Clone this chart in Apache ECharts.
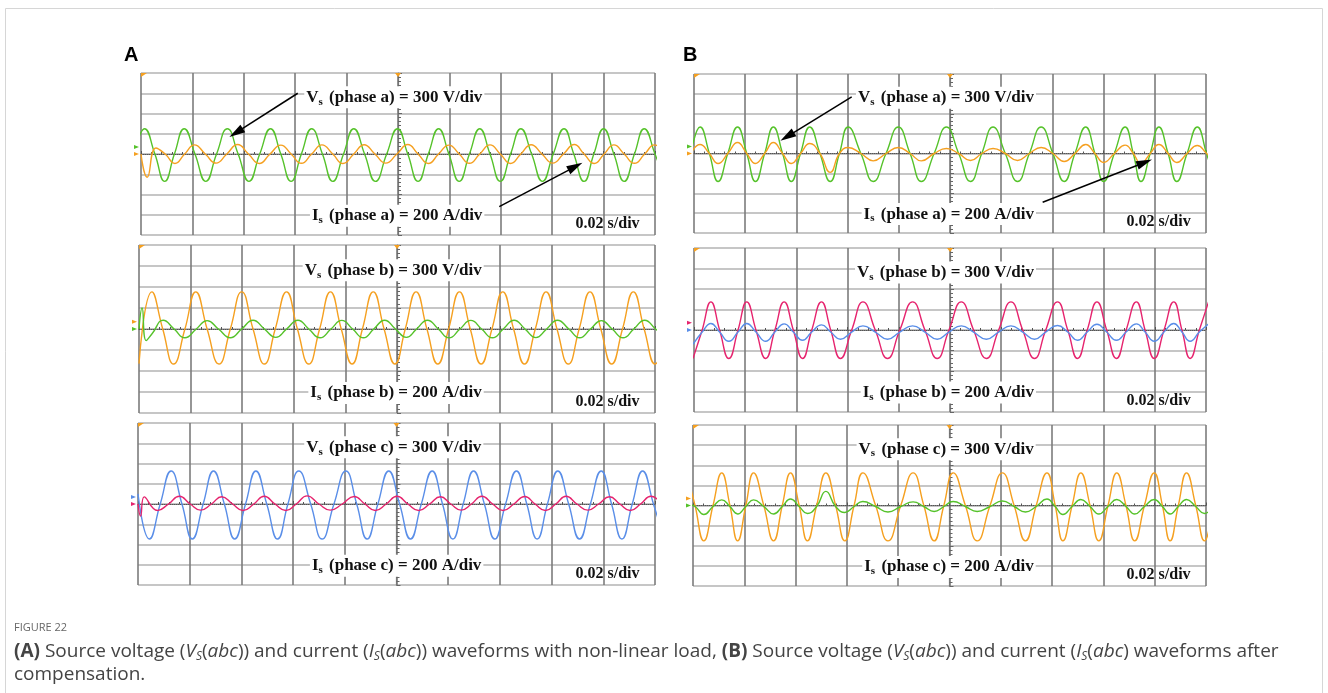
<!DOCTYPE html>
<html>
<head>
<meta charset="utf-8">
<title>Figure 22</title>
<script src="https://cdn.jsdelivr.net/npm/echarts@6/dist/echarts.min.js"></script>
<style>
  html, body { margin: 0; padding: 0; background: #fff; }
  #chart { width: 1328px; height: 693px; }
</style>
</head>
<body>
<div id="chart"></div>
<script>
// sample times are in screen divisions from the left edge (0..10, 0.02 s/div),
// values in vertical divisions from the centre line

// (A) phase a
const tA1v = [-0.13, 0.07, 0.27, 0.46, 0.65, 0.84, 1.05, 1.26, 1.47, 1.68, 1.89, 2.10, 2.31, 2.52, 2.72, 2.92, 3.12, 3.32, 3.53, 3.73, 3.94, 4.14, 4.35, 4.56, 4.78, 4.99, 5.19, 5.39, 5.59, 5.79, 5.99, 6.19, 6.39, 6.59, 6.79, 6.99, 7.19, 7.39, 7.60, 7.81, 8.02, 8.23, 8.42, 8.62, 8.81, 9.00, 9.20, 9.40, 9.60, 9.79, 10.00, 10.20];
const vA1 = [0, 1.25, 0, -1.35, 0, 1.25, 0, -1.35, 0, 1.25, 0, -1.35, 0, 1.25, 0, -1.35, 0, 1.25, 0, -1.35, 0, 1.25, 0, -1.35, 0, 1.25, 0, -1.35, 0, 1.25, 0, -1.35, 0, 1.25, 0, -1.35, 0, 1.25, 0, -1.35, 0, 1.25, 0, -1.35, 0, 1.25, 0, -1.35, 0, 1.25, 0, -1.35];
const tA1i = [0.00, 0.12, 0.29, 0.47, 0.66, 0.85, 1.04, 1.25, 1.46, 1.67, 1.88, 2.09, 2.30, 2.51, 2.72, 2.92, 3.12, 3.32, 3.52, 3.73, 3.93, 4.14, 4.34, 4.55, 4.76, 4.98, 5.19, 5.39, 5.59, 5.79, 5.99, 6.19, 6.39, 6.59, 6.79, 6.99, 7.19, 7.39, 7.59, 7.80, 8.01, 8.22, 8.43, 8.62, 8.82, 9.01, 9.20, 9.40, 9.60, 9.80, 9.99, 10.20];
const iA1 = [0, -1.15, 0.3, 0, -0.47, 0, 0.45, 0, -0.45, 0, 0.47, 0, -0.47, 0, 0.44, 0, -0.46, 0, 0.45, 0, -0.47, 0, 0.46, 0, -0.45, 0, 0.47, 0, -0.47, 0, 0.44, 0, -0.46, 0, 0.45, 0, -0.47, 0, 0.46, 0, -0.45, 0, 0.47, 0, -0.47, 0, 0.45, 0, -0.46, 0, 0.45, 0];

// (A) phase b
const tA2v = [0.00, 0.25, 0.46, 0.67, 0.89, 1.10, 1.32, 1.55, 1.77, 1.99, 2.21, 2.43, 2.64, 2.86, 3.07, 3.29, 3.50, 3.71, 3.92, 4.13, 4.33, 4.54, 4.75, 4.96, 5.16, 5.37, 5.58, 5.79, 6.00, 6.21, 6.42, 6.63, 6.84, 7.05, 7.26, 7.47, 7.68, 7.89, 8.10, 8.32, 8.53, 8.74, 8.95, 9.16, 9.37, 9.58, 9.79, 10.00, 10.21];
const vA2 = [-1.65, 1.77, 0, -1.67, 0, 1.77, 0, -1.67, 0, 1.77, 0, -1.67, 0, 1.77, 0, -1.67, 0, 1.77, 0, -1.67, 0, 1.77, 0, -1.67, 0, 1.77, 0, -1.67, 0, 1.77, 0, -1.67, 0, 1.77, 0, -1.67, 0, 1.77, 0, -1.67, 0, 1.77, 0, -1.67, 0, 1.77, 0, -1.67, 0];
const tA2i = [0.00, 0.06, 0.14, 0.26, 0.47, 0.68, 0.89, 1.11, 1.32, 1.54, 1.77, 1.99, 2.21, 2.43, 2.65, 2.86, 3.08, 3.29, 3.51, 3.72, 3.93, 4.14, 4.35, 4.55, 4.76, 4.97, 5.18, 5.38, 5.59, 5.80, 6.01, 6.22, 6.43, 6.64, 6.85, 7.06, 7.27, 7.48, 7.69, 7.90, 8.11, 8.33, 8.54, 8.75, 8.96, 9.17, 9.38, 9.59, 9.80, 10.01, 10.22];
const iA2 = [0, 1.0, -0.55, -0.2, 0.42, 0, -0.42, 0, 0.4, 0, -0.42, 0, 0.42, 0, -0.4, 0, 0.42, 0, -0.42, 0, 0.41, 0, -0.42, 0, 0.42, 0, -0.4, 0, 0.42, 0, -0.42, 0, 0.41, 0, -0.42, 0, 0.42, 0, -0.41, 0, 0.42, 0, -0.42, 0, 0.4, 0, -0.42, 0, 0.42, 0, -0.42];

// (A) phase c
const tA3v = [0.00, 0.22, 0.43, 0.64, 0.85, 1.05, 1.26, 1.46, 1.67, 1.87, 2.08, 2.28, 2.49, 2.70, 2.90, 3.11, 3.34, 3.56, 3.79, 4.02, 4.23, 4.43, 4.64, 4.85, 5.06, 5.27, 5.48, 5.69, 5.89, 6.09, 6.29, 6.49, 6.70, 6.90, 7.11, 7.32, 7.52, 7.72, 7.92, 8.12, 8.33, 8.54, 8.75, 8.96, 9.16, 9.36, 9.56, 9.76, 9.97, 10.18];
const vA3 = [0.5, -1.73, 0, 1.63, 0, -1.73, 0, 1.63, 0, -1.73, 0, 1.63, 0, -1.73, 0, 1.63, 0, -1.73, 0, 1.63, 0, -1.73, 0, 1.63, 0, -1.73, 0, 1.63, 0, -1.73, 0, 1.63, 0, -1.73, 0, 1.63, 0, -1.73, 0, 1.63, 0, -1.73, 0, 1.63, 0, -1.73, 0, 1.63, 0, -1.73];
const tA3i = [0.00, 0.05, 0.12, 0.38, 0.59, 0.80, 1.01, 1.21, 1.42, 1.62, 1.83, 2.03, 2.24, 2.44, 2.65, 2.86, 3.06, 3.27, 3.50, 3.72, 3.95, 4.18, 4.39, 4.59, 4.80, 5.01, 5.22, 5.43, 5.64, 5.85, 6.05, 6.25, 6.45, 6.65, 6.86, 7.06, 7.27, 7.48, 7.68, 7.88, 8.08, 8.28, 8.49, 8.70, 8.91, 9.12, 9.32, 9.52, 9.72, 9.92, 10.13];
const iA3 = [0, -0.6, 0.35, -0.32, 0, 0.38, 0, -0.3, 0, 0.36, 0, -0.32, 0, 0.38, 0, -0.32, 0, 0.4, 0, -0.3, 0, 0.37, 0, -0.32, 0, 0.38, 0, -0.32, 0, 0.36, 0, -0.3, 0, 0.38, 0, -0.32, 0, 0.37, 0, -0.32, 0, 0.38, 0, -0.3, 0, 0.36, 0, -0.32, 0, 0.38, 0];

// (B) phase a
const tB1 = [-0.06, 0.12, 0.30, 0.47, 0.66, 0.85, 1.03, 1.20, 1.38, 1.55, 1.73, 1.90, 2.08, 2.26, 2.46, 2.66, 2.84, 3.01, 3.26, 3.50, 3.75, 3.99, 4.22, 4.44, 4.69, 4.93, 5.17, 5.40, 5.62, 5.84, 6.08, 6.32, 6.55, 6.78, 7.01, 7.23, 7.44, 7.65, 7.83, 8.00, 8.21, 8.42, 8.58, 8.73, 8.91, 9.08, 9.26, 9.43, 9.63, 9.83, 10.01, 10.18];
const vB1 = [0, 1.33, 0, -1.41, 0, 1.33, 0, -1.41, 0, 1.33, 0, -1.41, 0, 1.33, 0, -1.41, 0, 1.33, 0, -1.41, 0, 1.33, 0, -1.41, 0, 1.33, 0, -1.41, 0, 1.33, 0, -1.41, 0, 1.33, 0, -1.41, 0, 1.33, 0, -1.41, 0, 1.33, 0, -1.41, 0, 1.33, 0, -1.41, 0, 1.33, 0, -1.41];
const iB1 = [0, 0.45, 0, -0.5, 0, 0.55, 0, -0.5, 0, 0.55, 0, -0.5, 0, 0.5, 0, -0.95, 0, 0.3, 0, -0.37, 0, 0.3, 0, -0.37, 0, 0.25, 0, -0.35, 0, 0.25, 0, -0.35, 0, 0.3, 0, -0.4, 0, 0.45, 0, -0.45, 0, 0.42, 0, -0.5, 0, 0.45, 0, -0.45, 0, 0.4, 0, -0.4];

// (B) phase b
const tB2 = [-0.02, 0.16, 0.33, 0.50, 0.68, 0.86, 1.03, 1.21, 1.40, 1.58, 1.76, 1.94, 2.12, 2.30, 2.49, 2.67, 2.86, 3.08, 3.30, 3.54, 3.78, 4.02, 4.27, 4.51, 4.75, 4.98, 5.22, 5.46, 5.71, 5.95, 6.19, 6.42, 6.65, 6.87, 7.10, 7.30, 7.49, 7.68, 7.87, 8.06, 8.25, 8.44, 8.64, 8.81, 8.99, 9.18, 9.37, 9.53, 9.69, 9.87, 10.05];
const vB2 = [-1.39, 0, 1.37, 0, -1.39, 0, 1.37, 0, -1.39, 0, 1.37, 0, -1.39, 0, 1.37, 0, -1.39, 0, 1.37, 0, -1.39, 0, 1.37, 0, -1.39, 0, 1.37, 0, -1.39, 0, 1.37, 0, -1.39, 0, 1.37, 0, -1.39, 0, 1.37, 0, -1.39, 0, 1.37, 0, -1.39, 0, 1.37, 0, -1.39, 0, 1.37];
const iB2 = [-0.7, -0.1, 0.32, -0.1, -0.55, -0.1, 0.32, -0.1, -0.55, -0.1, 0.3, -0.1, -0.5, -0.1, 0.25, -0.1, -0.45, -0.1, 0.2, -0.1, -0.45, -0.1, 0.2, -0.1, -0.45, -0.1, 0.2, -0.1, -0.45, -0.1, 0.2, -0.1, -0.45, -0.1, 0.22, -0.1, -0.5, -0.1, 0.28, -0.1, -0.5, -0.1, 0.3, -0.1, -0.55, -0.1, 0.32, -0.1, -0.55, -0.1, 0.3];

// (B) phase c
const tB3 = [-0.12, 0.04, 0.21, 0.39, 0.56, 0.72, 0.87, 1.03, 1.18, 1.38, 1.57, 1.74, 1.90, 2.07, 2.23, 2.41, 2.59, 2.78, 2.96, 3.14, 3.31, 3.56, 3.80, 4.05, 4.29, 4.50, 4.70, 4.89, 5.07, 5.31, 5.54, 5.79, 6.03, 6.26, 6.48, 6.69, 6.90, 7.06, 7.21, 7.39, 7.56, 7.74, 7.91, 8.09, 8.26, 8.44, 8.61, 8.80, 8.99, 9.15, 9.30, 9.46, 9.62, 9.80, 9.97, 10.13];
const vB3 = [1.62, 0, -1.76, 0, 1.62, 0, -1.76, 0, 1.62, 0, -1.76, 0, 1.62, 0, -1.76, 0, 1.62, 0, -1.76, 0, 1.62, 0, -1.76, 0, 1.62, 0, -1.76, 0, 1.62, 0, -1.76, 0, 1.62, 0, -1.76, 0, 1.62, 0, -1.76, 0, 1.62, 0, -1.76, 0, 1.62, 0, -1.76, 0, 1.62, 0, -1.76, 0, 1.62, 0, -1.76, 0];
const iB3 = [0.1, -0.05, -0.45, -0.05, 0.28, -0.05, -0.42, -0.05, 0.28, -0.05, -0.42, -0.05, 0.32, -0.05, -0.4, -0.05, 0.7, -0.05, -0.35, -0.05, 0.2, -0.05, -0.32, -0.05, 0.18, -0.05, -0.3, -0.05, 0.2, -0.05, -0.3, -0.05, 0.22, -0.05, -0.32, -0.05, 0.32, -0.05, -0.45, -0.05, 0.3, -0.05, -0.42, -0.05, 0.3, -0.05, -0.42, -0.05, 0.3, -0.05, -0.42, -0.05, 0.3, -0.05, -0.4, -0.05];

const phases = ['a', 'b', 'c', 'a', 'b', 'c'];
const voltText = '300 V/div';
const currText = '200 A/div';
const timeText = '0.02 s/div';

const GREEN = '#55c22a', ORANGE = '#f5a020', MAGENTA = '#e6246e', BLUE = '#5a8ee8';

// screen rectangles of the six panels
const panels = [
  { left: 141, top: 73, width: 514, height: 162 },
  { left: 139, top: 245, width: 516, height: 168 },
  { left: 138, top: 423, width: 517, height: 162 },
  { left: 694, top: 74, width: 512, height: 159 },
  { left: 694, top: 248, width: 512, height: 164 },
  { left: 693, top: 425, width: 513, height: 161 }
];

// each panel: [times V, values V, colour V, times I, values I, colour I]
const traces = [
  [tA1v, vA1, GREEN, tA1i, iA1, ORANGE],
  [tA2v, vA2, ORANGE, tA2i, iA2, GREEN],
  [tA3v, vA3, BLUE, tA3i, iA3, MAGENTA],
  [tB1, vB1, GREEN, tB1, iB1, ORANGE],
  [tB2, vB2, MAGENTA, tB2, iB2, BLUE],
  [tB3, vB3, ORANGE, tB3, iB3, GREEN]
];

// arrows in panels A(a) and B(a): [panel, from x, from y, to x, to y] in divisions
const arrows = [
  [0, 3.05, 3.0, 1.85, 1.05],
  [0, 6.97, -2.6, 8.45, -0.62],
  [3, 3.08, 2.85, 1.82, 0.85],
  [3, 6.81, -2.45, 8.8, -0.45]
];

function pair(t, v) {
  return t.map((x, k) => [x - 5, v[k]]);
}

const chart = echarts.init(document.getElementById('chart'));

const grid = [], xAxis = [], yAxis = [], series = [], graphic = [];

panels.forEach((p, i) => {
  grid.push({ left: p.left, top: p.top, width: p.width, height: p.height, show: false });
  xAxis.push({
    gridIndex: i, type: 'value', min: -5, max: 5, interval: 1,
    axisLabel: { show: false },
    axisLine: { show: true, onZero: true, lineStyle: { color: '#555', width: 1, type: 'dotted' } },
    axisTick: { show: true, inside: true, length: 3, lineStyle: { color: '#555' } },
    minorTick: { show: true, splitNumber: 5, length: 2, lineStyle: { color: '#555' } },
    splitLine: { show: true, lineStyle: { color: '#7c7c7c', width: 1.6 } }
  });
  yAxis.push({
    gridIndex: i, type: 'value', min: -4, max: 4, interval: 1,
    axisLabel: { show: false },
    axisLine: { show: true, onZero: true, lineStyle: { color: '#777', width: 1.2 } },
    axisTick: { show: true, inside: true, length: 4, lineStyle: { color: '#666' } },
    minorTick: { show: true, splitNumber: 5, length: 3, lineStyle: { color: '#666' } },
    splitLine: { show: true, lineStyle: { color: '#b3b3b3', width: 1.6 } }
  });

  const tr = traces[i];
  const marks = arrows.filter(a => a[0] === i).map(a => [
    { coord: [a[1] - 5, a[2]] }, { coord: [a[3] - 5, a[4]] }
  ]);
  series.push({
    type: 'line', xAxisIndex: i, yAxisIndex: i, data: pair(tr[0], tr[1]),
    showSymbol: false, smooth: 0.5, z: 3,
    lineStyle: { color: tr[2], width: 1.4 }, itemStyle: { color: tr[2] },
    markLine: marks.length ? {
      silent: true, symbol: ['none', 'triangle'], symbolSize: [9, 16],
      label: { show: false },
      lineStyle: { color: '#000', width: 1.5, type: 'solid' },
      data: marks
    } : undefined
  });
  series.push({
    type: 'line', xAxisIndex: i, yAxisIndex: i, data: pair(tr[3], tr[4]),
    showSymbol: false, smooth: 0.5, z: 4,
    lineStyle: { color: tr[5], width: 1.4 }, itemStyle: { color: tr[5] }
  });

  // labels
  const px = t => p.left + t / 10 * p.width;
  const py = y => p.top + (4 - y) / 8 * p.height;
  const serif = { fontFamily: 'Liberation Serif', fontWeight: 'bold', fontSize: 17, lineHeight: 20, fill: '#111' };
  const rich = {
    m: serif,
    s: { fontFamily: 'Liberation Serif', fontWeight: 'bold', fontSize: 11, lineHeight: 9, verticalAlign: 'bottom', padding: [0, 2, 0, 0], fill: '#111' }
  };
  graphic.push({
    type: 'text', x: px(6.68), y: py(2.8), z: 10,
    style: {
      text: '{m|V}{s|s}{m| (phase ' + phases[i] + ') = ' + voltText + '}',
      rich: rich, align: 'right', verticalAlign: 'middle',
      backgroundColor: '#fff', padding: [1, 2]
    }
  });
  graphic.push({
    type: 'text', x: px(6.68), y: py(-3.05), z: 10,
    style: {
      text: '{m|I}{s|s}{m| (phase ' + phases[i] + ') = ' + currText + '}',
      rich: rich, align: 'right', verticalAlign: 'middle',
      backgroundColor: '#fff', padding: [1, 2]
    }
  });
  graphic.push({
    type: 'text', x: px(9.7), y: py(-3.45), z: 10,
    style: { text: timeText, font: 'bold 16px "Liberation Serif"', fill: '#111', align: 'right', verticalAlign: 'middle' }
  });
  // trigger markers and channel markers
  graphic.push({
    type: 'polygon', z: 10,
    shape: { points: [[p.left, p.top], [p.left + 6, p.top], [p.left, p.top + 4]] },
    style: { fill: ORANGE }
  });
  graphic.push({
    type: 'polygon', z: 10,
    shape: { points: [[px(5) - 3, p.top], [px(5) + 3, p.top], [px(5), p.top + 4]] },
    style: { fill: ORANGE }
  });
  graphic.push({
    type: 'polygon', z: 10,
    shape: { points: [[p.left - 7, py(0.35) - 2], [p.left - 2, py(0.35)], [p.left - 7, py(0.35) + 2]] },
    style: { fill: tr[2] }
  });
  graphic.push({
    type: 'polygon', z: 10,
    shape: { points: [[p.left - 7, py(0) - 2], [p.left - 2, py(0)], [p.left - 7, py(0) + 2]] },
    style: { fill: tr[5] }
  });
});

// outer frame, panel letters and caption
graphic.push({
  type: 'rect', z: 0, shape: { x: 5.5, y: 8.5, width: 1317, height: 700 },
  style: { fill: 'none', stroke: '#d6d6d6', lineWidth: 1 }
});
graphic.push({
  type: 'text', x: 124, y: 55, z: 10,
  style: { text: 'A', font: 'bold 20px "Liberation Sans"', fill: '#000', verticalAlign: 'middle' }
});
graphic.push({
  type: 'text', x: 683, y: 55, z: 10,
  style: { text: 'B', font: 'bold 20px "Liberation Sans"', fill: '#000', verticalAlign: 'middle' }
});
graphic.push({
  type: 'text', x: 14, y: 628, z: 10,
  style: { text: 'FIGURE 22', font: '11px "Open Sans"', fill: '#666', verticalAlign: 'middle' }
});
const capBase = { fontFamily: 'Open Sans', fontSize: 19, lineHeight: 23, fill: '#444' };
const capRich = {
  n: capBase,
  b: Object.assign({}, capBase, { fontWeight: 'bold' }),
  i: Object.assign({}, capBase, { fontStyle: 'italic' }),
  s: Object.assign({}, capBase, { fontStyle: 'italic', fontSize: 12, lineHeight: 16, verticalAlign: 'bottom' })
};
graphic.push({
  type: 'text', x: 14, y: 640, z: 10,
  style: {
    text: '{b|(A)}{n| Source voltage (}{i|V}{s|S}{n|(}{i|abc}{n|)) and current (}{i|I}{s|S}{n|(}{i|abc}{n|)) waveforms with non-linear load, }' +
      '{b|(B)}{n| Source voltage (}{i|V}{s|S}{n|(}{i|abc}{n|)) and current (}{i|I}{s|S}{n|(}{i|abc}{n|) waveforms after}\n{n|compensation.}',
    rich: capRich
  }
});

chart.setOption({
  animation: false,
  backgroundColor: '#fff',
  grid: grid,
  xAxis: xAxis,
  yAxis: yAxis,
  series: series,
  graphic: graphic
});
</script>
</body>
</html>
